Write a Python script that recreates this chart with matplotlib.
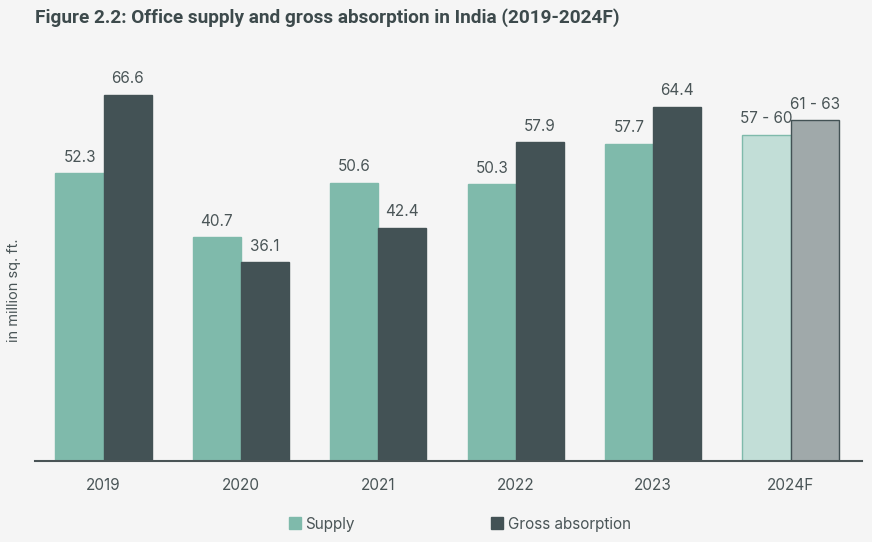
import numpy as np
import matplotlib.pyplot as plt
from matplotlib.patches import Patch

# datos
years = ["2019", "2020", "2021", "2022", "2023", "2024F"]
supply = [52.3, 40.7, 50.6, 50.3, 57.7, 59.3]
absorption = [66.6, 36.1, 42.4, 57.9, 64.4, 62.0]
supply_lbl = ["52.3", "40.7", "50.6", "50.3", "57.7", "57 - 60"]
absorption_lbl = ["66.6", "36.1", "42.4", "57.9", "64.4", "61 - 63"]

BG = "#f5f5f5"
C_SUP = "#7fbaab"
C_ABS = "#435255"
C_SUP_F = "#c2ded7"
C_ABS_F = "#a0a9aa"
TXT = "#4a5557"

plt.rcParams["font.family"] = ["Inter", "DejaVu Sans"]

fig = plt.figure(figsize=(8.72, 5.42), dpi=100, facecolor=BG)
ax = fig.add_axes([0.040, 0.1494, 0.9485, 0.74])
ax.set_facecolor(BG)

x = np.arange(len(years))
w = 0.35
sup_col = [C_SUP] * 5 + [C_SUP_F]
abs_col = [C_ABS] * 5 + [C_ABS_F]
b1 = ax.bar(x - w / 2, supply, w, color=sup_col, edgecolor=C_SUP, linewidth=1)
b2 = ax.bar(x + w / 2, absorption, w, color=abs_col, edgecolor=C_ABS, linewidth=1)

for rect, lbl in zip(b1, supply_lbl):
    ax.annotate(lbl, (rect.get_x() + rect.get_width() / 2, rect.get_height()),
                xytext=(0, 6), textcoords="offset points", ha="center", va="bottom",
                fontsize=11, color=TXT)
for rect, lbl in zip(b2, absorption_lbl):
    ax.annotate(lbl, (rect.get_x() + rect.get_width() / 2, rect.get_height()),
                xytext=(0, 6), textcoords="offset points", ha="center", va="bottom",
                fontsize=11, color=TXT)

ax.set_xlim(-0.5, 5.52)
ax.set_ylim(0, 72.9)
ax.set_xticks(x)
ax.set_xticklabels(years, fontsize=11, color=TXT)
ax.tick_params(axis="x", length=0, pad=12)
ax.set_yticks([])
for s in ["top", "right", "left"]:
    ax.spines[s].set_visible(False)
ax.spines["bottom"].set_color("#4a5456")
ax.spines["bottom"].set_linewidth(1.5)

fig.text(0.016, 1 - 290 / 542, "in million sq. ft.", rotation=90, ha="center",
         va="center", fontsize=10.5, color=TXT)
fig.text(35 / 872, 1 - 18 / 542, "Figure 2.2: Office supply and gross absorption in India (2019-2024F)",
         fontsize=13.7, fontweight="bold", color="#3d4a4c", family=["Roboto", "DejaVu Sans"],
         va="center", ha="left")

handles = [Patch(color=C_SUP, label="Supply"), Patch(color=C_ABS, label="Gross absorption")]
fig.legend(handles=handles, loc="center", bbox_to_anchor=(0.527, 1 - 524 / 542), ncol=2,
           frameon=False, fontsize=11, handlelength=0.8, handleheight=0.8,
           handletextpad=0.3, columnspacing=8.9, labelcolor=TXT)

fig.savefig("out.png", dpi=100, facecolor=BG)
